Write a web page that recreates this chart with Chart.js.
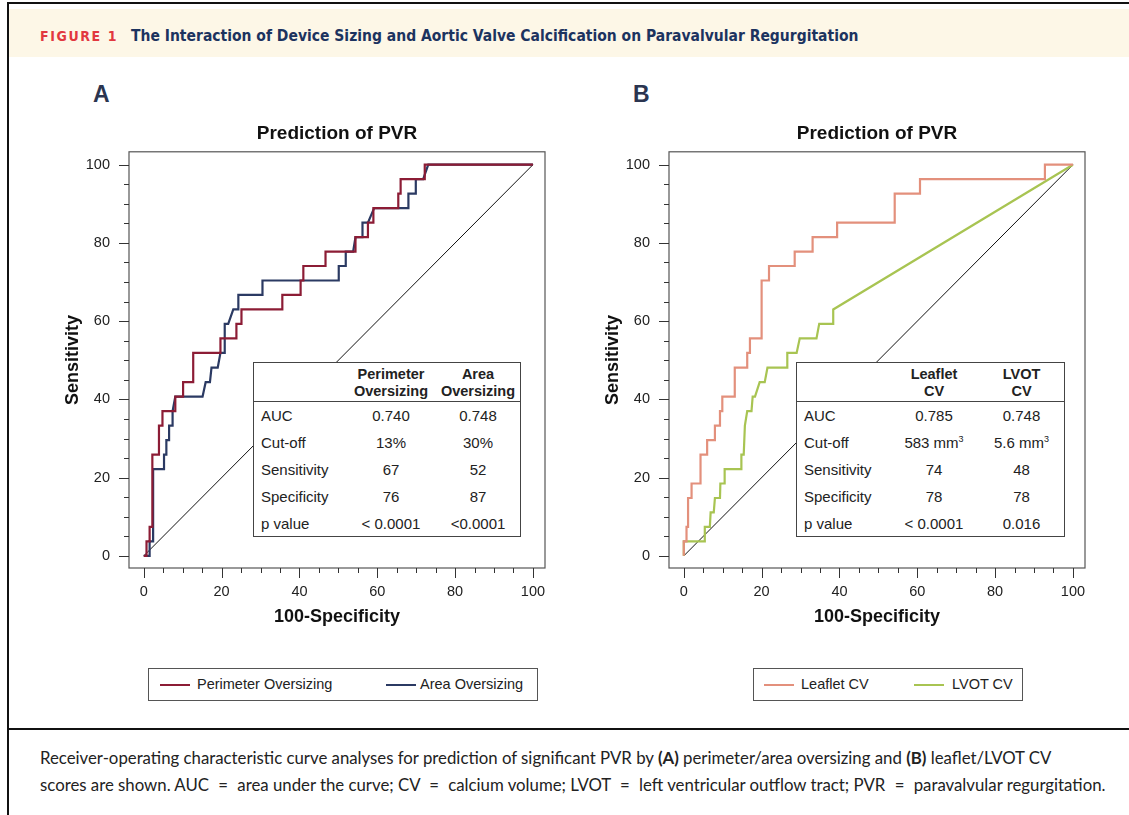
<!DOCTYPE html>
<html lang="en">
<head>
    <meta charset="UTF-8">
    <title>Figure 1 - Prediction of PVR</title>
    <style>
        body {
            margin: 0;
            width: 1129px;
            height: 815px;
            position: relative;
            background: #fff;
            overflow: hidden;
            font-family: 'Liberation Sans', Arial, sans-serif;
            color: #111;
        }
        .frame-top { position: absolute; left: 8px; top: 2px; width: 1121px; height: 2px; background: #111; }
        .frame-left { position: absolute; left: 7px; top: 2px; width: 2px; height: 813px; background: #111; }
        .band {
            position: absolute; left: 9px; top: 9px; width: 1120px; height: 48px;
            background: #fdf7e7;
        }
        .band .fig {
            position: absolute; left: 31px; top: 19px;
            font-family: 'DejaVu Sans Condensed', 'DejaVu Sans', sans-serif;
            font-weight: bold; font-size: 14px; letter-spacing: 1.6px; color: #e2383f;
        }
        .band .ttl {
            position: absolute; left: 122px; top: 18px;
            font-family: 'DejaVu Sans Condensed', 'DejaVu Sans', sans-serif;
            font-weight: bold; font-size: 15.5px; color: #1c335f;
        }
        .letter {
            position: absolute; top: 81px;
            font-weight: bold; font-size: 23px; color: #2b3550;
        }
        canvas { position: absolute; top: 100px; }
        #chartA { left: 0; }
        #chartB { left: 540px; }
        .stats {
            position: absolute; top: 362px; height: 175px;
            background: #fff; border: 1px solid #444; box-sizing: border-box;
            font-size: 15px; color: #222;
        }
        .stats table { border-collapse: collapse; width: 100%; }
        .stats th {
            font-size: 14.5px; font-weight: bold; line-height: 17px; height: 37px;
            padding: 0 0 1px; vertical-align: bottom;
            border-bottom: 1px solid #444; text-align: center;
        }
        .stats td { height: 27px; padding: 0; text-align: center; }
        .stats td:first-child { text-align: left; padding-left: 7px; }
        .legend {
            position: absolute; top: 668px; height: 33px;
            border: 1px solid #555; box-sizing: border-box; font-size: 14.5px; color: #222;
        }
        .legend .swatch { position: absolute; top: 15px; width: 30px; height: 2px; }
        .legend .lbl { position: absolute; top: 7px; }
        .rule { position: absolute; left: 8px; top: 728px; width: 1121px; height: 2px; background: #111; }
        .caption {
            position: absolute; left: 40px; top: 744px; width: 1085px;
            font-family: Lato, 'Open Sans', sans-serif; font-size: 16.8px; line-height: 27px; color: #222;
        }
        .caption .eq { padding: 0 5px; }
    </style>
</head>
<body>
    <div class="frame-top"></div>
    <div class="frame-left"></div>
    <div class="band">
        <span class="fig">FIGURE 1</span>
        <span class="ttl">The Interaction of Device Sizing and Aortic Valve Calcification on Paravalvular Regurgitation</span>
    </div>

    <div class="letter" style="left:93px">A</div>
    <div class="letter" style="left:633px">B</div>

    <canvas id="chartA" width="565" height="540"></canvas>
    <canvas id="chartB" width="565" height="540"></canvas>

    <div class="stats" style="left:253px; width:268px">
        <table>
            <tr><th style="width:92px"></th><th style="width:90px">Perimeter<br>Oversizing</th><th>Area<br>Oversizing</th></tr>
            <tr><td>AUC</td><td>0.740</td><td>0.748</td></tr>
            <tr><td>Cut-off</td><td>13%</td><td>30%</td></tr>
            <tr><td>Sensitivity</td><td>67</td><td>52</td></tr>
            <tr><td>Specificity</td><td>76</td><td>87</td></tr>
            <tr><td>p value</td><td>&lt; 0.0001</td><td>&lt;0.0001</td></tr>
        </table>
    </div>
    <div class="stats" style="left:796px; width:269px">
        <table>
            <tr><th style="width:92px"></th><th style="width:90px">Leaflet<br>CV</th><th>LVOT<br>CV</th></tr>
            <tr><td>AUC</td><td>0.785</td><td>0.748</td></tr>
            <tr><td>Cut-off</td><td>583 mm<sup style="font-size:9px">3</sup></td><td>5.6 mm<sup style="font-size:9px">3</sup></td></tr>
            <tr><td>Sensitivity</td><td>74</td><td>48</td></tr>
            <tr><td>Specificity</td><td>78</td><td>78</td></tr>
            <tr><td>p value</td><td>&lt; 0.0001</td><td>0.016</td></tr>
        </table>
    </div>

    <div class="legend" style="left:148px; width:390px">
        <div class="swatch" style="left:11px; background:#8c1c35"></div>
        <div class="lbl" style="left:48px">Perimeter Oversizing</div>
        <div class="swatch" style="left:237px; background:#2b3a63"></div>
        <div class="lbl" style="left:271px">Area Oversizing</div>
    </div>
    <div class="legend" style="left:753px; width:270px">
        <div class="swatch" style="left:10px; background:#e3907c"></div>
        <div class="lbl" style="left:47px">Leaflet CV</div>
        <div class="swatch" style="left:160px; background:#a8c452"></div>
        <div class="lbl" style="left:198px">LVOT CV</div>
    </div>

    <div class="rule"></div>
    <div class="caption">
        Receiver-operating characteristic curve analyses for prediction of significant PVR by <b>(A)</b> perimeter/area oversizing and <b>(B)</b> leaflet/LVOT CV<br>
        scores are shown. AUC <span class="eq">=</span> area under the curve; CV <span class="eq">=</span> calcium volume; LVOT <span class="eq">=</span> left ventricular outflow tract; PVR <span class="eq">=</span> paravalvular regurgitation.
    </div>

    <script src="https://cdn.jsdelivr.net/npm/chart.js"></script>
    <script>
        // axis ticks (labels every 20, marks every 5)
        const labelTicks = [0, 20, 40, 60, 80, 100];
        const markTicks = [0, 5, 10, 15, 20, 25, 30, 35, 40, 45, 50, 55, 60, 65, 70, 75, 80, 85, 90, 95, 100];

        // reference (chance) diagonal
        const refX = [0, 100];
        const refY = [0, 100];

        // Panel A - perimeter oversizing (100-specificity, sensitivity)
        const perimX = [0, 0.7, 0.7, 1.5, 1.5, 2.2, 2.2, 3.9, 3.9, 4.8, 4.8, 8.1, 8.1, 10.1, 10.1, 12.7, 12.7, 19.7, 19.7, 23.8, 23.8, 25.1, 25.1, 35.6, 35.6, 40.3, 40.3, 41.0, 41.0, 46.7, 46.7, 54.4, 54.4, 57.6, 57.6, 59.0, 59.0, 65.4, 65.4, 66.0, 66.0, 72.2, 72.2, 100];
        const perimY = [0, 0, 3.7, 3.7, 7.4, 7.4, 25.9, 25.9, 33.3, 33.3, 37.0, 37.0, 40.7, 40.7, 44.4, 44.4, 51.9, 51.9, 55.6, 55.6, 59.3, 59.3, 63.0, 63.0, 66.7, 66.7, 70.4, 70.4, 74.1, 74.1, 77.8, 77.8, 81.5, 81.5, 85.2, 85.2, 88.9, 88.9, 92.6, 92.6, 96.3, 96.3, 100, 100];

        // Panel A - area oversizing
        const areaX = [0, 1.5, 1.5, 2.4, 2.4, 5.2, 5.2, 5.8, 5.8, 6.5, 6.5, 7.4, 7.4, 8.1, 15.1, 15.9, 17.0, 17.4, 19.0, 19.7, 20.8, 20.8, 21.7, 23.0, 24.3, 24.3, 30.5, 30.5, 50.1, 50.1, 51.9, 51.9, 53.8, 54.4, 56.2, 56.2, 57.6, 59.2, 68.0, 68.0, 69.9, 69.9, 71.8, 73.1, 100];
        const areaY = [0, 0, 3.7, 3.7, 22.2, 22.2, 25.9, 25.9, 29.6, 29.6, 33.3, 33.3, 37.0, 40.7, 40.7, 44.4, 44.4, 48.1, 48.1, 51.9, 51.9, 59.3, 59.3, 63.0, 63.0, 66.7, 66.7, 70.4, 70.4, 74.1, 74.1, 77.8, 77.8, 81.5, 81.5, 85.2, 85.2, 88.9, 88.9, 92.6, 92.6, 96.3, 96.3, 100, 100];

        // Panel B - leaflet calcium volume
        const leafX = [0, 0, 0.7, 0.7, 1.1, 1.1, 2.0, 2.0, 4.3, 4.3, 6.0, 6.0, 8.0, 8.0, 9.3, 9.3, 9.9, 9.9, 13.1, 13.1, 16.3, 16.3, 17.0, 17.0, 20.0, 20.0, 21.9, 21.9, 28.5, 28.5, 33.1, 33.1, 39.4, 39.4, 54.2, 54.2, 60.7, 60.7, 92.8, 92.8, 100];
        const leafY = [0, 3.7, 3.7, 7.4, 7.4, 14.8, 14.8, 18.5, 18.5, 25.9, 25.9, 29.6, 29.6, 33.3, 33.3, 37.0, 37.0, 40.7, 40.7, 48.1, 48.1, 51.9, 51.9, 55.6, 55.6, 70.4, 70.4, 74.1, 74.1, 77.8, 77.8, 81.5, 81.5, 85.2, 85.2, 92.6, 92.6, 96.3, 96.3, 100, 100];

        // Panel B - LVOT calcium volume
        const lvotX = [0, 0, 5.4, 5.4, 6.7, 6.9, 7.7, 8.0, 9.3, 9.4, 10.5, 10.5, 14.8, 14.8, 15.4, 15.7, 16.3, 17.4, 17.7, 18.3, 19.5, 20.8, 21.5, 26.6, 26.6, 29.0, 29.8, 34.1, 34.8, 38.4, 38.4, 100];
        const lvotY = [0, 3.7, 3.7, 7.4, 7.4, 11.1, 11.1, 14.8, 14.8, 18.5, 18.5, 22.2, 22.2, 25.9, 25.9, 33.3, 37.0, 37.0, 40.7, 40.7, 44.4, 44.4, 48.1, 48.1, 51.9, 51.9, 55.6, 55.6, 59.3, 59.3, 63.0, 100];

        const FONT = "'Liberation Sans', Arial, sans-serif";

        function pts(xs, ys) {
            return xs.map((x, i) => ({ x: x, y: ys[i] }));
        }

        function curve(label, xs, ys, color) {
            return {
                label: label,
                data: pts(xs, ys),
                showLine: true,
                borderColor: color,
                borderWidth: 2.2,
                pointRadius: 0,
                fill: false
            };
        }

        // plot box + outside tick marks
        const boxTicks = {
            id: 'boxTicks',
            afterDraw(chart) {
                const { ctx, chartArea: a, scales: { x, y } } = chart;
                ctx.save();
                ctx.strokeStyle = '#555';
                ctx.lineWidth = 1.2;
                ctx.strokeRect(a.left, a.top, a.width, a.height);
                ctx.strokeStyle = '#333';
                ctx.lineWidth = 1;
                ctx.beginPath();
                markTicks.forEach(v => {
                    const len = v % 20 === 0 ? 10 : 5;
                    const px = Math.round(x.getPixelForValue(v)) + 0.5;
                    ctx.moveTo(px, a.bottom);
                    ctx.lineTo(px, a.bottom + len);
                    const py = Math.round(y.getPixelForValue(v)) + 0.5;
                    ctx.moveTo(a.left, py);
                    ctx.lineTo(a.left - len, py);
                });
                ctx.stroke();
                ctx.restore();
            }
        };

        function options() {
            return {
                responsive: false,
                animation: false,
                layout: { padding: { left: 55, right: 20, top: 0, bottom: 0 } },
                plugins: {
                    legend: { display: false },
                    tooltip: { enabled: false },
                    title: {
                        display: true,
                        fullSize: false,
                        text: 'Prediction of PVR',
                        color: '#111',
                        font: { family: FONT, size: 19, weight: 'bold' },
                        padding: { top: 22, bottom: 7 }
                    }
                },
                scales: {
                    x: {
                        type: 'linear',
                        min: -3.8,
                        max: 103.1,
                        grid: { display: false, drawTicks: false },
                        border: { display: false },
                        afterBuildTicks: s => { s.ticks = labelTicks.map(v => ({ value: v })); },
                        afterFit: s => { s.height = 72; },
                        ticks: { padding: 15, color: '#222', maxRotation: 0, font: { family: FONT, size: 14.5 } },
                        title: {
                            display: true,
                            text: '100-Specificity',
                            color: '#111',
                            font: { family: FONT, size: 18, weight: 'bold' },
                            padding: { top: 0, bottom: 12 }
                        }
                    },
                    y: {
                        type: 'linear',
                        min: -3.1,
                        max: 103.3,
                        grid: { display: false, drawTicks: false },
                        border: { display: false },
                        afterBuildTicks: s => { s.ticks = labelTicks.map(v => ({ value: v })); },
                        afterFit: s => { s.width = 74; },
                        ticks: { padding: 19, color: '#222', font: { family: FONT, size: 14.5 } },
                        title: {
                            display: true,
                            text: 'Sensitivity',
                            color: '#111',
                            font: { family: FONT, size: 18, weight: 'bold' },
                            padding: { top: 7, bottom: 0 }
                        }
                    }
                }
            };
        }

        new Chart(document.getElementById('chartA'), {
            type: 'scatter',
            data: {
                datasets: [
                    curve('Perimeter Oversizing', perimX, perimY, '#8c1c35'),
                    curve('Area Oversizing', areaX, areaY, '#2b3a63'),
                    { label: 'Reference', data: pts(refX, refY), showLine: true, borderColor: '#111', borderWidth: 1, pointRadius: 0 }
                ]
            },
            options: options(),
            plugins: [boxTicks]
        });

        new Chart(document.getElementById('chartB'), {
            type: 'scatter',
            data: {
                datasets: [
                    curve('Leaflet CV', leafX, leafY, '#e3907c'),
                    curve('LVOT CV', lvotX, lvotY, '#a8c452'),
                    { label: 'Reference', data: pts(refX, refY), showLine: true, borderColor: '#111', borderWidth: 1, pointRadius: 0 }
                ]
            },
            options: options(),
            plugins: [boxTicks]
        });
    </script>
</body>
</html>
